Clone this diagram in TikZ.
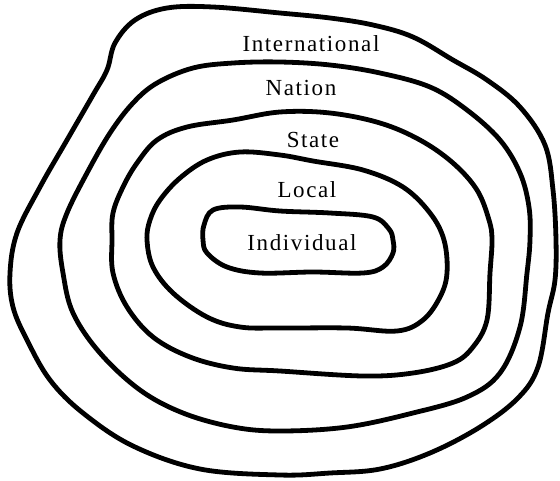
\documentclass[tikz,border=0pt]{standalone}
\usepackage{fontspec}
\setmainfont{Liberation Serif}[LetterSpace=7]
\begin{document}
\begin{tikzpicture}[x=1pt,y=-1pt,
  ring/.style={line width=4.8pt,line join=round,draw=black},
  lbl/.style={inner sep=0pt,anchor=base,font=\fontsize{23}{23}\selectfont}]
\useasboundingbox (0,0) rectangle (560,480);
% International
\draw[ring] plot[smooth cycle,tension=0.6] coordinates {
(167,8)(213,7)(280,13)(330,18)(373,25)(413,37)(453,60)(487,80)(520,107)(545,145)(553,190)(556,240)(555,280)(548,313)(538,367)(518,398)(480,427)(430,453)(380,469)(330,473)(280,475)(200,469)(133,446)(83,413)(50,380)(27,340)(13,307)(10,273)(17,233)(40,187)(67,140)(93,95)(107,70)(115,43)(135,20)};
% Nation
\draw[ring] plot[smooth cycle,tension=0.6] coordinates {
(280,62)(233,63)(193,68)(157,83)(133,103)(110,133)(87,173)(67,213)(60,240)(63,273)(73,313)(100,353)(140,390)(183,413)(233,427)(280,431)(347,427)(413,413)(467,397)(500,373)(520,327)(527,273)(530,240)(529,207)(520,173)(500,140)(467,110)(430,87)(380,73)(330,65)};
% State
\draw[ring] plot[smooth cycle,tension=0.6] coordinates {
(280,112)(233,120)(187,127)(157,140)(137,163)(123,187)(113,213)(112,240)(113,273)(127,307)(153,337)(190,357)(233,368)(280,371)(363,376)(413,373)(453,363)(473,347)(487,320)(490,273)(492,240)(489,220)(477,190)(453,163)(420,140)(380,123)(330,113)};
% Local
\draw[ring] plot[smooth cycle,tension=0.6] coordinates {
(280,155)(240,152)(207,160)(180,178)(160,200)(150,220)(147,240)(153,267)(173,293)(207,317)(240,327)(280,328)(347,328)(397,331)(423,320)(440,297)(447,273)(444,240)(430,213)(403,187)(363,170)(313,161)};
% Individual
\draw[ring] plot[smooth cycle,tension=0.6] coordinates {
(280,211)(240,207)(213,210)(204,225)(203,240)(207,253)(227,267)(260,273)(313,272)(363,273)(383,267)(393,253)(393,240)(389,229)(373,217)(330,213)};
\node[lbl] (intl) at (311,51) {International};
\node[lbl] (nation) at (301,95) {Nation};
\node[lbl] (state) at (313,147) {State};
\node[lbl] (local) at (307,197) {Local};
\node[lbl] (indiv) at (302,250) {Individual};
\end{tikzpicture}
\end{document}
